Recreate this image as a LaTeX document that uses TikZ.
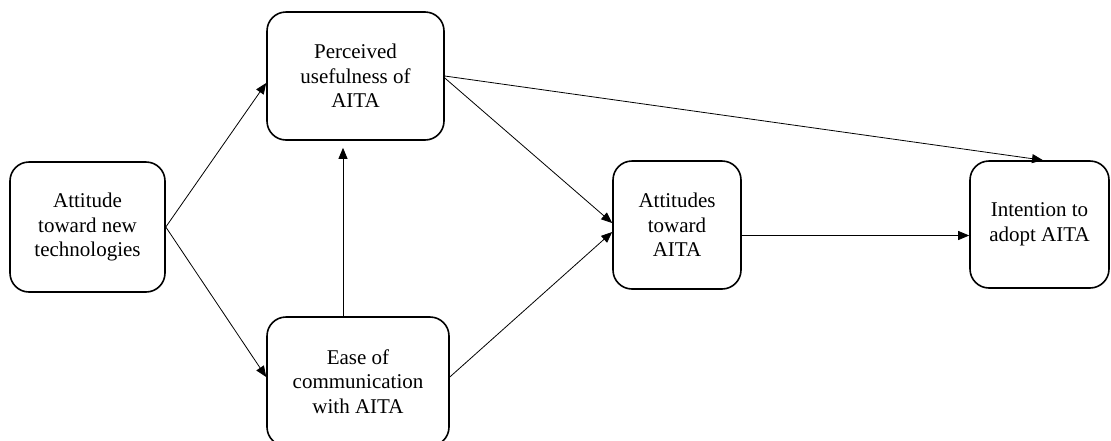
\documentclass[tikz,border=0pt]{standalone}
\usepackage{fontspec}
\setmainfont{Liberation Serif}
\usetikzlibrary{arrows.meta,calc}
\tikzset{
  box/.style={draw=black, line width=1.6pt, rounded corners=19pt, align=center, inner sep=0pt,
    font=\fontsize{21}{24.5}\selectfont},
  arr/.style={line width=0.8pt, -{Triangle[length=11pt,width=9pt]}}
}
\begin{document}
\begin{tikzpicture}[x=1pt,y=-1pt]
\useasboundingbox (0,0) rectangle (1111,440);
\node[box, minimum width=155pt, minimum height=130pt] (A) at (87.5,227) {Attitude\\toward new\\technologies};
\node[box, minimum width=177pt, minimum height=128pt] (P) at (355.5,76) {Perceived\\usefulness of\\AITA};
\node[box, minimum width=182pt, minimum height=129pt] (E) at (358,381.5) {Ease of\\communication\\with AITA};
\node[box, minimum width=128pt, minimum height=128pt] (T) at (677,225) {Attitudes\\toward\\AITA};
\node[box, minimum width=139pt, minimum height=127pt] (I) at (1039.5,224.5) {Intention to\\adopt AITA};

\draw[arr] (A.east) -- ([yshift=-7pt]P.west);
\draw[arr] (A.east) -- ([yshift=4.5pt]E.west);
\draw[arr] ([xshift=-15pt]E.north) -- ([xshift=-12.5pt,yshift=-7pt]P.south);
\draw[arr] ([yshift=-2pt]P.east) -- ([yshift=2pt]T.west);
\draw[arr] ([yshift=4.5pt]E.east) -- ([yshift=-7pt]T.west);
\draw[arr] (P.east) -- ([xshift=3.5pt]I.north);
\draw[arr] ([yshift=-10.5pt]T.east) -- ([yshift=-11pt]I.west);
\end{tikzpicture}
\end{document}
